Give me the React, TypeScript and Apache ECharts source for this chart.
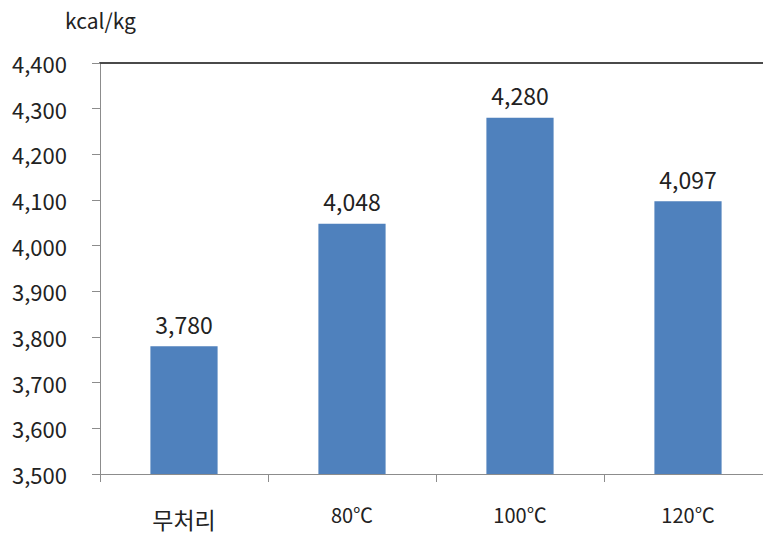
import React, { useEffect, useRef } from "react";
import * as echarts from "echarts";

// Calorific value by treatment temperature
const categories = ["무처리", "80℃", "100℃", "120℃"];
const categoryFontSizes = [23, 20, 20, 20];
const categoryLineHeights = [29, 20, 20, 20];
const calorificValues = [3780, 4048, 4280, 4097];
const unitLabel = "kcal/kg";
const yMin = 3500;
const yMax = 4400;
const yStep = 100;

const FONT = "'Noto Sans CJK KR', 'Noto Sans', sans-serif";

const fmt = (v: number) => v.toLocaleString("en-US");

export default function App() {
  const ref = useRef<HTMLDivElement>(null);

  useEffect(() => {
    if (!ref.current) return;
    const chart = echarts.init(ref.current, null, { renderer: "svg" });
    chart.setOption({
      animation: false,
      backgroundColor: "#ffffff",
      textStyle: { fontFamily: FONT },
      grid: { left: 100, right: 0, top: 63, bottom: 63, containLabel: false },
      graphic: [
        {
          type: "text",
          left: 65,
          top: 9,
          style: { text: unitLabel, fontSize: 21, fontFamily: FONT, fill: "#222" },
        },
      ],
      xAxis: [
        {
          type: "category",
          data: categories.map((c, i) => ({
            value: c,
            textStyle: { fontSize: categoryFontSizes[i], lineHeight: categoryLineHeights[i] },
          })),
          axisLine: { lineStyle: { color: "#8c8c8c", width: 1 } },
          axisTick: { show: true, length: 8, inside: false, lineStyle: { color: "#8c8c8c" } },
          axisLabel: { color: "#222", margin: 30, fontFamily: FONT },
        },
        {
          type: "category",
          position: "top",
          data: categories,
          axisLine: { show: true, lineStyle: { color: "#4a4a4a", width: 2 } },
          axisTick: { show: false },
          axisLabel: { show: false },
        },
      ],
      yAxis: {
        type: "value",
        min: yMin,
        max: yMax,
        interval: yStep,
        axisLine: { show: true, lineStyle: { color: "#8c8c8c", width: 1 } },
        axisTick: { show: true, length: 8, lineStyle: { color: "#8c8c8c" } },
        splitLine: { show: false },
        axisLabel: {
          color: "#222",
          fontSize: 22,
          margin: 33,
          fontFamily: FONT,
          formatter: (v: number) => fmt(v),
        },
      },
      series: [
        {
          type: "bar",
          data: calorificValues,
          barWidth: "40%",
          itemStyle: { color: "#4f81bd" },
          label: {
            show: true,
            position: "top",
            distance: 11,
            fontSize: 23,
            color: "#222",
            fontFamily: FONT,
            formatter: (p: any) => fmt(p.value),
          },
        },
      ],
    });
    return () => chart.dispose();
  }, []);

  // The plot area runs slightly past the right edge of the visible frame.
  return (
    <div
      style={{
        position: "absolute",
        left: 0,
        top: 0,
        width: 763,
        height: 537,
        overflow: "hidden",
      }}
    >
      <div ref={ref} style={{ width: 772, height: 537 }} />
    </div>
  );
}
